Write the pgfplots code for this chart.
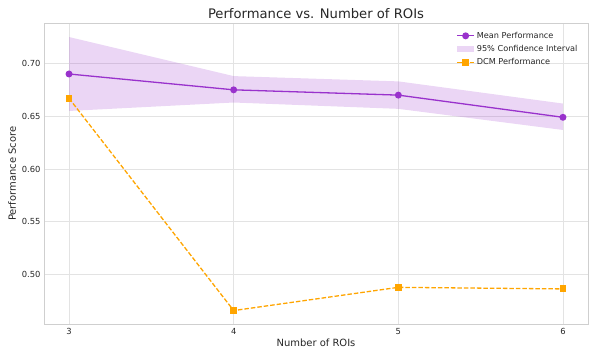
\documentclass[border=0pt]{standalone}
\usepackage{pgfplots}
\pgfplotsset{compat=1.18}
\usepackage{fontspec}
\setmainfont{DejaVu Sans}
\definecolor{meancol}{HTML}{9932CC}
\definecolor{dcmcol}{HTML}{FFA500}
\definecolor{gridcol}{HTML}{E3E3E3}
\definecolor{txt}{HTML}{262626}
\begin{document}
\begin{tikzpicture}
\path[use as bounding box] (-44bp,-34.7bp) rectangle (554bp,324.3bp);
\begin{axis}[
    scale only axis,
    width=544bp, height=301bp,
    xmin=2.848, xmax=6.152,
    ymin=0.453, ymax=0.738,
    xtick={3,4,5,6},
    ytick={0.50,0.55,0.60,0.65,0.70},
    yticklabel style={/pgf/number format/fixed, /pgf/number format/fixed zerofill, /pgf/number format/precision=2},
    /pgf/number format/assume math mode=true,
    tick style={draw=none},
    grid=major,
    grid style={gridcol, line width=0.9bp},
    axis line style={gridcol!80!gray, line width=0.9bp},
    ticklabel style={font=\fontsize{8.4}{10}\selectfont, text=txt},
    xticklabel style={yshift=-0.5bp},
    xlabel={Number of ROIs},
    ylabel={Performance Score},
    label style={font=\fontsize{10}{12}\selectfont, text=txt},
    xlabel style={yshift=3bp},
    ylabel style={yshift=-1bp},
    title={Performance vs. Number of ROIs},
    title style={font=\fontsize{13.2}{15}\selectfont, text=txt, yshift=-5bp},
    legend style={at={(0.99,0.985)}, anchor=north east, draw=none, fill=none,
        font=\fontsize{8.2}{9.5}\selectfont, text=txt, row sep=1.5bp,
        cells={anchor=west}},
    legend cell align=left,
]
\addplot[color=meancol, line width=1.3bp, mark=*, mark size=2.8bp, mark options={fill=meancol}]
    coordinates {(3,0.690) (4,0.675) (5,0.670) (6,0.649)};
\addlegendentry{Mean Performance}
\addplot[fill=meancol, fill opacity=0.2, draw=none,
    legend image code/.code={\fill[meancol, fill opacity=0.2] (0bp,-3bp) rectangle (17bp,3bp);}]
    coordinates {(3,0.725) (4,0.688) (5,0.683) (6,0.662)
                 (6,0.637) (5,0.657) (4,0.663) (3,0.655)} -- cycle;
\addlegendentry{95\% Confidence Interval}
\addplot[color=dcmcol, line width=1.3bp, dash pattern=on 4.5bp off 2bp, mark=square*, mark size=2.8bp, mark options={solid, fill=dcmcol}]
    coordinates {(3,0.667) (4,0.466) (5,0.488) (6,0.4865)};
\addlegendentry{DCM Performance}
\end{axis}
\end{tikzpicture}
\end{document}
